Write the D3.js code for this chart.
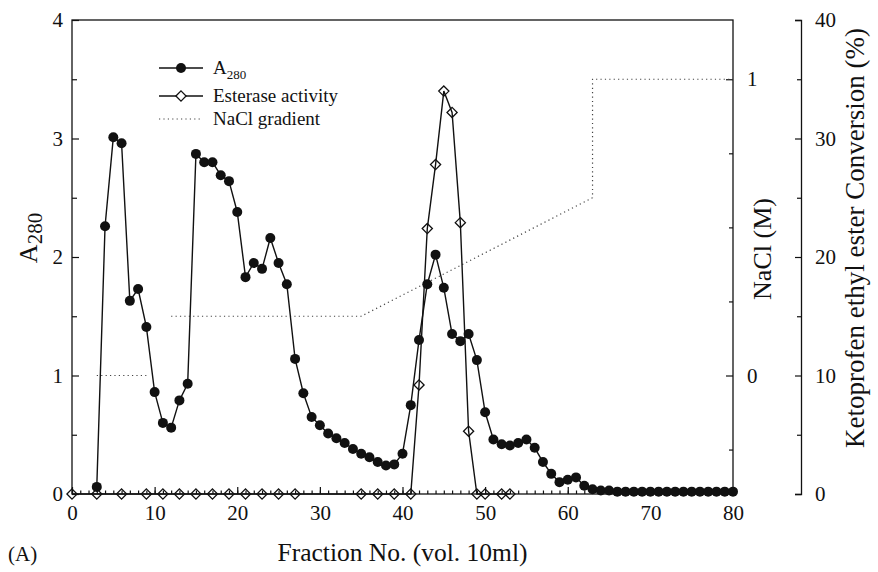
<!DOCTYPE html>
<html>
<head>
<meta charset="utf-8">
<script src="https://cdn.jsdelivr.net/npm/d3@7"></script>
<style>
  html, body { margin: 0; padding: 0; background: #fff; }
  svg { display: block; }
  text { font-family: "Liberation Serif", "Times New Roman", serif; fill: #111; }
</style>
</head>
<body>
<svg id="chart" width="878" height="572"></svg>
<script>
// ---------- data ----------
const a280Fractions = [3,4,5,6,7,8,9,10,11,12,13,14,15,16,17,18,19,20,21,22,23,24,25,26,27,28,29,30,31,32,33,34,35,36,37,38,39,40,41,42,43,44,45,46,47,48,49,50,51,52,53,54,55,56,57,58,59,60,61,62,63,64,65,66,67,68,69,70,71,72,73,74,75,76,77,78,79,80];
const a280Values = [0.06,2.26,3.01,2.96,1.63,1.73,1.41,0.86,0.60,0.56,0.79,0.93,
  2.87,2.80,2.80,2.69,2.64,2.38,1.83,1.95,1.90,2.16,1.95,1.77,
  1.14,0.85,0.65,0.58,0.51,0.47,0.43,0.38,0.34,0.31,0.27,0.24,
  0.25,0.34,0.75,1.30,1.77,2.02,1.74,1.35,1.29,1.35,1.13,0.69,
  0.46,0.42,0.41,0.43,0.46,0.39,0.27,0.17,0.10,0.12,0.14,0.07,
  0.04,0.03,0.03,0.02,0.02,0.02,0.02,0.02,0.02,0.02,0.02,0.02,0.02,0.02,0.02,0.02,0.02,0.02];

const esteraseFractions = [0,3,6,9,11,13,15,17,19,21,23,25,27,35,37,39,41,42,43,44,45,46,47,48,49,50,52,53];
const esteraseValues = [0,0,0,0,0,0,0,0,0,0,0,0,0,0,0,0,0,9.2,22.4,27.8,34.0,32.2,22.9,5.3,0,0,0,0];

// NaCl gradient (M); null marks a gap in the dotted line
const naclFractions = [3,9,null,12,35,63,63,80];
const naclValues    = [0,0,null,0.2,0.2,0.6,1.0,1.0];

const xTicks = [0,10,20,30,40,50,60,70,80];
const a280Ticks = [0,1,2,3,4];
const naclTicks = [0,1];
const convTicks = [0,10,20,30,40];

const legendLabels = ["A", "Esterase activity", "NaCl gradient"];

// ---------- layout ----------
const svg = d3.select("#chart");
const L = 72, R = 733, T = 20, B = 494;

const x = d3.scaleLinear().domain([0, 80]).range([L, R]);
const yA = d3.scaleLinear().domain([0, 4]).range([B, T]);
const yK = d3.scaleLinear().domain([0, 40]).range([B, T]);
const yN = d3.scaleLinear().domain([0, 1]).range([yA(1), yA(3.5)]);

const tickFont = "21px";

// frame
svg.append("rect").attr("x", L).attr("y", T).attr("width", R - L).attr("height", B - T)
  .attr("fill", "none").attr("stroke", "#111").attr("stroke-width", 1.3);

function styleAxis(g) {
  g.select(".domain").remove();
  g.selectAll("line").attr("stroke", "#111").attr("stroke-width", 1.2);
  g.selectAll("text").style("font-size", tickFont).style("font-family", "Liberation Serif");
}

// left axis A280
svg.append("g").attr("transform", `translate(${L},0)`)
  .call(d3.axisLeft(yA).tickValues(a280Ticks).tickSizeInner(-7).tickSizeOuter(0).tickPadding(9).tickFormat(d3.format("d")))
  .call(styleAxis);
svg.append("g").attr("transform", `translate(${L},0)`)
  .call(d3.axisLeft(yA).tickValues([0.5,1.5,2.5,3.5]).tickSizeInner(-5).tickSizeOuter(0).tickFormat(""))
  .call(styleAxis);

// bottom axis
svg.append("g").attr("transform", `translate(0,${B})`)
  .call(d3.axisBottom(x).tickValues(xTicks).tickSizeInner(-7).tickSizeOuter(0).tickPadding(11).tickFormat(d3.format("d")))
  .call(styleAxis);
svg.append("g").attr("transform", `translate(0,${B})`)
  .call(d3.axisBottom(x).ticks(80).tickSizeInner(-3.5).tickSizeOuter(0).tickFormat(""))
  .call(styleAxis);

// right plot axis: NaCl (M)
svg.append("g").attr("transform", `translate(${R},0)`)
  .call(d3.axisRight(yN).tickValues(naclTicks).tickSizeInner(-7).tickSizeOuter(0).tickPadding(14).tickFormat(d3.format("d")))
  .call(styleAxis);
svg.append("g").attr("transform", `translate(${R},0)`)
  .call(d3.axisRight(yN).tickValues([-0.25,0.25,0.5,0.75]).tickSizeInner(-4).tickSizeOuter(0).tickFormat(""))
  .call(styleAxis);

// far right axis: conversion (%)
const KX = 801;
const gK = svg.append("g").attr("transform", `translate(${KX},0)`)
  .call(d3.axisRight(yK).tickValues(convTicks).tickSizeInner(-6).tickSizeOuter(-6).tickPadding(14).tickFormat(d3.format("d")));
gK.select(".domain").attr("stroke", "#111").attr("stroke-width", 1.3).attr("fill", "none");
gK.selectAll("line").attr("stroke", "#111").attr("stroke-width", 1.2);
gK.selectAll("text").style("font-size", tickFont);
svg.append("g").attr("transform", `translate(${KX},0)`)
  .call(d3.axisRight(yK).tickValues([5,15,25,35]).tickSizeInner(-4).tickSizeOuter(0).tickFormat(""))
  .call(styleAxis);

// ---------- series ----------
// NaCl dotted
const naclPts = naclFractions.map((f, i) => ({f, v: naclValues[i]}));
svg.append("path")
  .attr("d", d3.line().defined(d => d.f !== null).x(d => x(d.f)).y(d => yN(d.v))(naclPts))
  .attr("fill", "none").attr("stroke", "#444").attr("stroke-width", 1.2)
  .attr("stroke-dasharray", "1.2,3.2");

// Esterase line + diamonds
const estPts = esteraseFractions.map((f, i) => ({f, v: esteraseValues[i]}));
svg.append("path")
  .attr("d", d3.line().x(d => x(d.f)).y(d => yK(d.v))(estPts))
  .attr("fill", "none").attr("stroke", "#111").attr("stroke-width", 1.4);

const diamond = d3.symbol().type(d3.symbolDiamond2).size(66);
svg.append("g").selectAll("path").data(estPts).join("path")
  .attr("transform", d => `translate(${x(d.f)},${yK(d.v)})`)
  .attr("d", diamond)
  .attr("fill", "none").attr("stroke", "#111").attr("stroke-width", 1.3);

// A280 line + circles
const aPts = a280Fractions.map((f, i) => ({f, v: a280Values[i]}));
svg.append("path")
  .attr("d", d3.line().x(d => x(d.f)).y(d => yA(d.v))(aPts))
  .attr("fill", "none").attr("stroke", "#111").attr("stroke-width", 1.4);
svg.append("g").selectAll("circle").data(aPts).join("circle")
  .attr("cx", d => x(d.f)).attr("cy", d => yA(d.v)).attr("r", 5)
  .attr("fill", "#111");

// ---------- legend ----------
const lg = svg.append("g");
const lx0 = 159, lx1 = 203, lxm = 181, ltx = 213;
const rows = [68, 96, 119];
// A280
lg.append("line").attr("x1", lx0).attr("x2", lx1).attr("y1", rows[0]).attr("y2", rows[0]).attr("stroke", "#111").attr("stroke-width", 1.4);
lg.append("circle").attr("cx", lxm).attr("cy", rows[0]).attr("r", 5).attr("fill", "#111");
const t0 = lg.append("text").attr("x", ltx).attr("y", rows[0] + 6).style("font-size", "19px");
t0.append("tspan").text(legendLabels[0]);
t0.append("tspan").attr("dy", 5).style("font-size", "13px").text("280");
// Esterase
lg.append("line").attr("x1", lx0).attr("x2", lx1).attr("y1", rows[1]).attr("y2", rows[1]).attr("stroke", "#111").attr("stroke-width", 1.4);
lg.append("path").attr("transform", `translate(${lxm},${rows[1]})`).attr("d", diamond)
  .attr("fill", "#fff").attr("stroke", "#111").attr("stroke-width", 1.3);
lg.append("text").attr("x", ltx).attr("y", rows[1] + 6).style("font-size", "19px").text(legendLabels[1]);
// NaCl
lg.append("line").attr("x1", lx0).attr("x2", lx1).attr("y1", rows[2]).attr("y2", rows[2])
  .attr("stroke", "#444").attr("stroke-width", 1.2).attr("stroke-dasharray", "1.2,3.2");
lg.append("text").attr("x", ltx).attr("y", rows[2] + 6).style("font-size", "19px").text(legendLabels[2]);

// ---------- titles ----------
svg.append("text").attr("x", (L + R) / 2).attr("y", 561).attr("text-anchor", "middle")
  .style("font-size", "25.5px").text("Fraction No. (vol. 10ml)");
svg.append("text").attr("x", 8).attr("y", 561).style("font-size", "21px").text("(A)");

const yt = svg.append("text").attr("transform", "translate(37,238) rotate(-90)")
  .attr("text-anchor", "middle").style("font-size", "26px");
yt.append("tspan").text("A");
yt.append("tspan").attr("dy", 5).style("font-size", "21px").text("280");

svg.append("text").attr("transform", "translate(771,249) rotate(-90)")
  .attr("text-anchor", "middle").style("font-size", "26px").text("NaCl (M)");
svg.append("text").attr("transform", "translate(864,238) rotate(-90)")
  .attr("text-anchor", "middle").style("font-size", "27px").text("Ketoprofen ethyl ester Conversion (%)");
</script>
</body>
</html>
